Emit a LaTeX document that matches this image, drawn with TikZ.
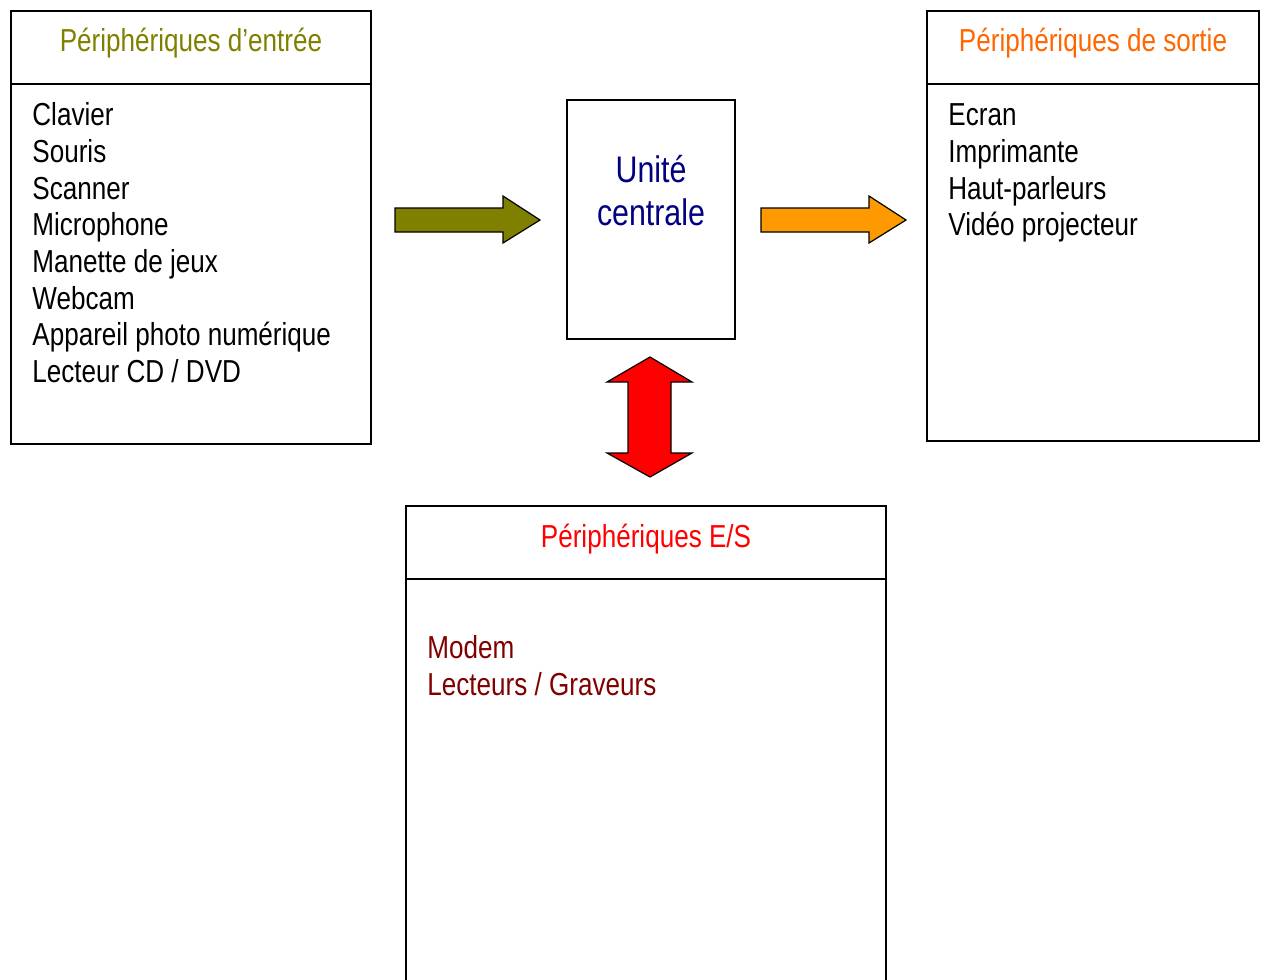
\documentclass[tikz,border=0pt]{standalone}
\usepackage{fontspec}
\setmainfont{Liberation Sans}[FakeStretch=0.82]
\usetikzlibrary{positioning}
\definecolor{olivetxt}{RGB}{128,128,0}
\definecolor{olivearrow}{RGB}{128,128,0}
\definecolor{orangetxt}{RGB}{255,102,0}
\definecolor{orangearrow}{RGB}{255,153,0}
\definecolor{navytxt}{RGB}{0,0,128}
\definecolor{darkredtxt}{RGB}{128,0,0}
\tikzset{box/.style = {line width = 1pt},
  arrowline/.style = {line width = 0.6pt, line join = miter},
  title/.style = {anchor = base, inner sep = 0, font = \fontsize{15.9}{18}\selectfont},
  item/.style = {anchor = base west, inner sep = 0, font = \fontsize{15.9}{18}\selectfont},
  unit/.style = {anchor = base, inner sep = 0, text = navytxt, font = \fontsize{18.5}{21}\selectfont}}

\begin{document}
\begin{tikzpicture}[x = 0.5pt, y = -0.5pt]
    \useasboundingbox (0, 0) rectangle (1261, 979);

    % input box
    \draw [box] (11, 11) rectangle (371, 444);
    \draw [box] (11, 84) -- (371, 84);
    \node [title, text = olivetxt] (intitle) at (191, 52) {Périphériques d’entrée};
    \foreach \txt [count = \i] in {Clavier, Souris, Scanner, Microphone, Manette de jeux, Webcam, Appareil photo numérique, Lecteur CD / DVD}
      \node [item] (in\i) at (32, {126 + 36.6*(\i - 1)}) {\txt};

    % output box
    \draw [box] (927, 11) rectangle (1259, 441);
    \draw [box] (927, 84) -- (1259, 84);
    \node [title, text = orangetxt] (outtitle) at (1093, 52) {Périphériques de sortie};
    \foreach \txt [count = \i] in {Ecran, Imprimante, Haut-parleurs, Vidéo projecteur}
      \node [item] (out\i) at (948, {126 + 36.6*(\i - 1)}) {\txt};

    % central unit
    \draw [box] (567, 100) rectangle (735, 339);
    \node [unit] (uc1) at (651, 182) {Unité};
    \node [unit] (uc2) at (651, 225) {centrale};

    % E/S box
    \draw [box] (406, 980) -- (406, 506) -- (886, 506) -- (886, 980);
    \draw [box] (406, 579) -- (886, 579);
    \node [title, text = red] (estitle) at (646, 547) {Périphériques E/S};
    \node [item, text = darkredtxt] (es1) at (427, 658) {Modem};
    \node [item, text = darkredtxt] (es2) at (427, 695) {Lecteurs / Graveurs};

    % arrows
    \draw [arrowline, fill = olivearrow] (395, 208) -- (503, 208) -- (503, 196) -- (540, 220)
      -- (503, 243) -- (503, 232) -- (395, 232) -- cycle;
    \draw [arrowline, fill = orangearrow] (761, 208) -- (869, 208) -- (869, 196) -- (906, 220)
      -- (869, 243) -- (869, 232) -- (761, 232) -- cycle;
    \draw [arrowline, fill = red] (650, 357) -- (692, 382) -- (671, 382) -- (671, 453) -- (692, 453)
      -- (650, 477) -- (607, 453) -- (628, 453) -- (628, 382) -- (607, 382) -- cycle;
  \end{tikzpicture}
\end{document}
